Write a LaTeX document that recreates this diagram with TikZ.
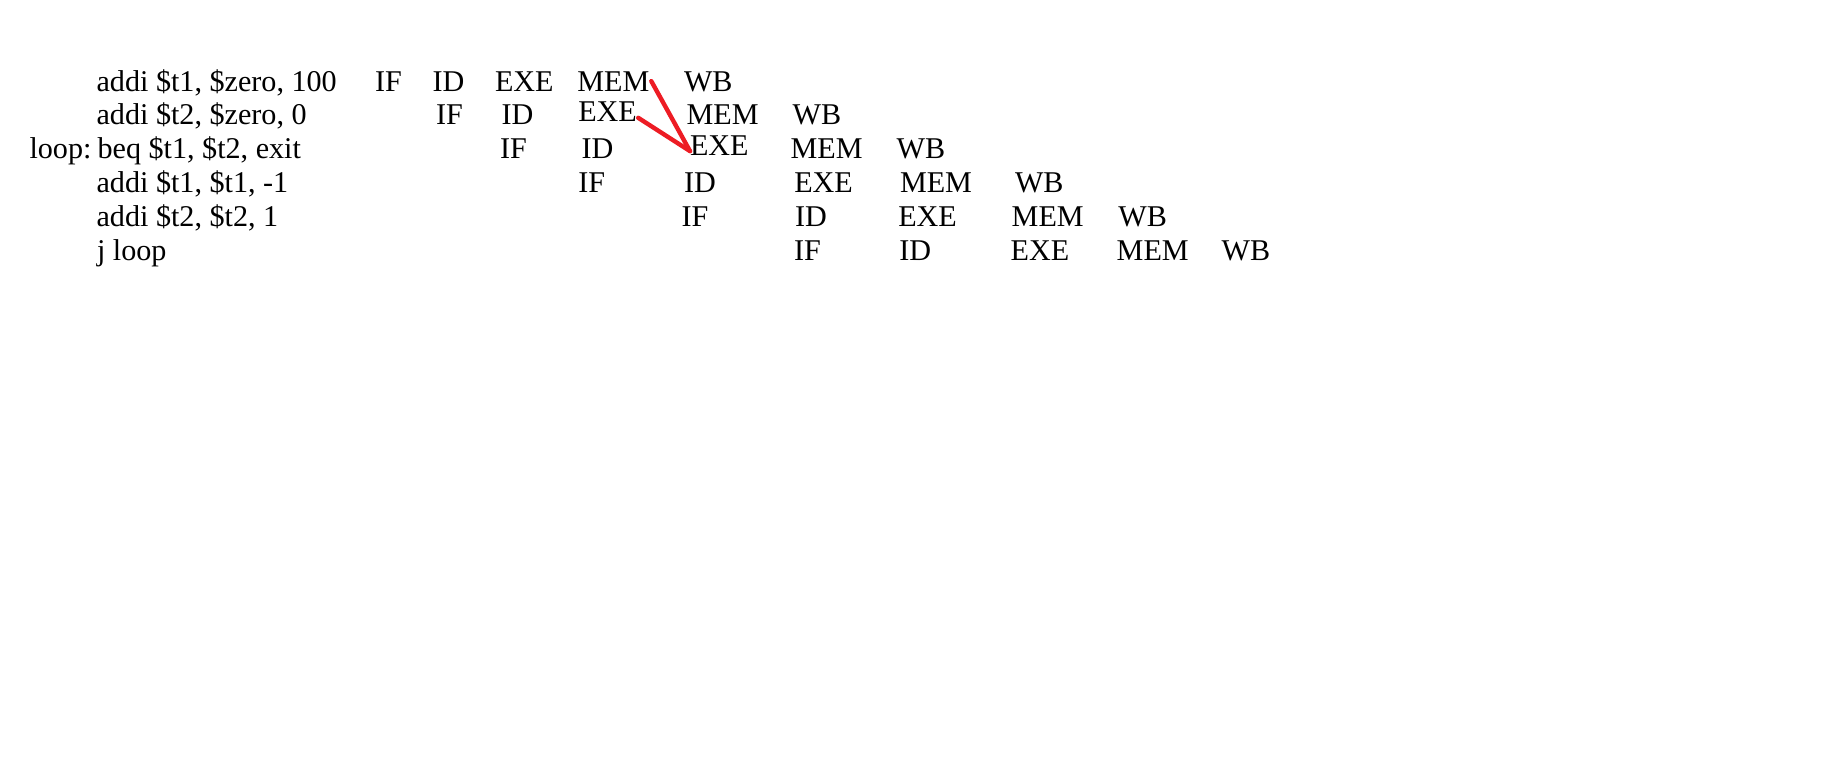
\documentclass[tikz,border=0pt]{standalone}
\usepackage{fontspec}
\setmainfont{Liberation Serif}
\usetikzlibrary{positioning}
\definecolor{pipeInk}{HTML}{000000}
\definecolor{pipeRed}{HTML}{ED1C24}
\tikzset{
  every picture/.style={font=\fontsize{22.6}{27}\selectfont, text=pipeInk},
  pipe text/.style={anchor=base west, inner sep=0pt, outer sep=0pt},
  pipe stage/.style={pipe text},
  pipe hazard/.style={draw=pipeRed, line width=3.3pt, line cap=round}
}

\begin{document}
\begin{tikzpicture}[x=0.75pt,y=-0.75pt]
  \useasboundingbox (0,0) rectangle (1848,764);
  % program text
  \node[pipe text] (loop) at (29.5,158.6) {loop:};
  \foreach \r/\y/\x/\ins in {1/91/96.6/{addi \$t1, \$zero, 100},
      2/124.8/96.6/{addi \$t2, \$zero, 0}, 3/158.6/97.6/{beq \$t1, \$t2, exit},
      4/192.4/96.6/{addi \$t1, \$t1, -1}, 5/226.2/96.6/{addi \$t2, \$t2, 1},
      6/260/97/{j loop}}
    \node[pipe text] (ins\r) at (\x,\y) {\ins};
  % pipeline stages, one row per instruction
  \foreach \r/\y/\cells in {
      1/91/{375/0/IF,432.7/0/ID,495/0/EXE,577.3/0/MEM,684/0/WB},
      2/124.8/{436/0/IF,501.7/0/ID,578.3/-3/EXE,686.7/0/MEM,792.7/0/WB},
      3/158.6/{500/0/IF,581.7/0/ID,690/-3.5/EXE,790.7/0/MEM,896.7/0/WB},
      4/192.4/{578.3/0/IF,684/0/ID,794.3/0/EXE,900/0/MEM,1015/0/WB},
      5/226.2/{681.7/0/IF,795/0/ID,898.3/0/EXE,1011.7/0/MEM,1118.3/0/WB},
      6/260/{794/0/IF,899.3/0/ID,1010.7/0/EXE,1116.7/0/MEM,1221.7/0/WB}}
    \foreach \x/\dy/\st in \cells
      \node[pipe stage] (\st\r) at (\x,\y+\dy) {\st};
  % forwarding into the beq
  \draw[pipe hazard] ([xshift=1.5pt]MEM1.east) -- ([yshift=3pt]EXE3.base west);
  \draw[pipe hazard] ([xshift=1pt,yshift=3pt]EXE2.south east) -- ([yshift=3pt]EXE3.base west);
\end{tikzpicture}
\end{document}
